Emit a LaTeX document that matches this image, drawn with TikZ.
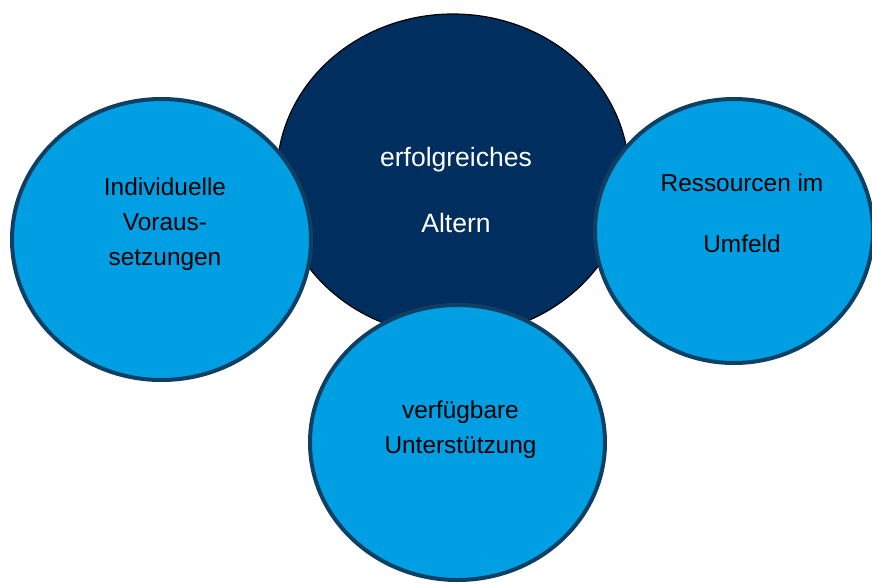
\documentclass[tikz,border=0pt]{standalone}
\usepackage{fontspec}
\setmainfont{Liberation Sans}
\usetikzlibrary{shapes.geometric,positioning}
\definecolor{corenavy}{RGB}{0,47,95}
\definecolor{pillarblue}{RGB}{0,159,227}
\definecolor{pillaredge}{RGB}{14,64,100}
\tikzset{
  core/.style   = {ellipse,draw=black,line width=0.9pt,fill=corenavy,
                   inner sep=0pt,minimum width=264pt,minimum height=241.5pt},
  pillar/.style = {ellipse,draw=pillaredge,line width=3pt,fill=pillarblue,
                   inner sep=0pt},
  lbl/.style    = {align=center,inner sep=0pt,
                   font=\fontsize{18.3}{26.25}\selectfont},
}

\begin{document}
\begin{tikzpicture}[x=0.75pt,y=-0.75pt]
  \useasboundingbox (0,0) rectangle (872,583);
  % centre and the three pillars
  \node[core] (core) at (453,175) {};
  \node[pillar,minimum width=224.25pt,minimum height=210.75pt] (indiv) at (161.5,239.5) {};
  \node[pillar,minimum width=208.5pt,minimum height=198pt] (umfeld) at (734,231) {};
  \node[pillar,minimum width=221.25pt,minimum height=206.25pt] (hilfe) at (457.5,442.5) {};
  % texts
  \node[lbl,text=white,font=\fontsize{19.9}{49.5}\selectfont] (coretxt) at (456,190)
       {erfolgreiches\\Altern};
  \node[lbl] (indivtxt) at (165,224) {Individuelle\\Voraus-\\setzungen};
  \node[lbl,font=\fontsize{18.3}{45.75}\selectfont] (umfeldtxt) at (742,213)
       {Ressourcen im\\Umfeld};
  \node[lbl] (hilfetxt) at (460.5,429.5) {verfügbare\\Unterstützung};
\end{tikzpicture}
\end{document}
